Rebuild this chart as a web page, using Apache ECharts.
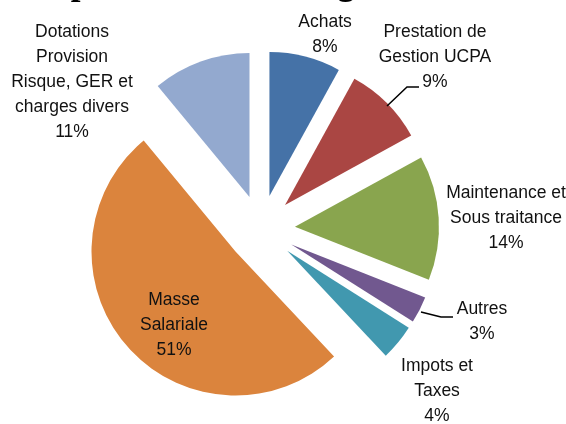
<!DOCTYPE html>
<html>
<head>
<meta charset="utf-8">
<style>
  html, body { margin: 0; padding: 0; background: #fff; }
  #chart { width: 566px; height: 424px; }
</style>
<script src="https://cdn.jsdelivr.net/npm/echarts@6/dist/echarts.min.js"></script>
</head>
<body>
<div id="chart"></div>
<script>
// postes de charges, dans l'ordre horaire depuis midi
const categories = ['Achats', 'Prestation de\nGestion UCPA', 'Maintenance et\nSous traitance', 'Autres', 'Impots et\nTaxes', 'Masse\nSalariale', 'Dotations\nProvision\nRisque, GER et\ncharges divers']
const values = [8, 9, 14, 3, 4, 51, 11]
const colors = ['#4572A7', '#AA4643', '#89A54E', '#71588F', '#4198AF', '#DB843D', '#93A9CF']

// placement des etiquettes (centre du bloc de texte), comme dans Excel
const labelAt = [[325, 35], [435, 57], [506, 218], [482, 322], [437, 391], [174, 325], [72, 82]]
// lignes de rappel (seulement Prestation et Autres)
const leaders = [
  [[387, 106], [407, 87], [419, 87]],
  [[421, 312], [441, 317], [453, 317]]
]

const total = values.reduce((a, b) => a + b, 0)

const labelTexts = categories.map((c, i) => ({
  type: 'text',
  x: labelAt[i][0],
  y: labelAt[i][1],
  z: 10,
  style: {
    text: c + '\n' + Math.round(values[i] / total * 100) + '%',
    font: '17.5px "Liberation Sans", Arial, sans-serif',
    lineHeight: 25,
    fill: '#111',
    align: 'center',
    verticalAlign: 'middle'
  }
}))

const leaderLines = leaders.map(pts => ({
  type: 'polyline',
  z: 10,
  shape: { points: pts },
  style: { stroke: '#000', lineWidth: 1.5, fill: null }
}))

const chart = echarts.init(document.getElementById('chart'))

const option = {
  animation: false,
  graphic: [{
    type: 'text',
    left: 30,
    top: -33,
    style: {
      text: 'Répartition des charges',
      font: 'bold 35px "Liberation Serif"',
      fill: '#000'
    }
  }].concat(labelTexts, leaderLines),
  series: [{
    type: 'pie',
    center: [261, 229],
    radius: 144,
    startAngle: 90,
    clockwise: true,
    selectedMode: 'multiple',
    selectedOffset: 34,
    emphasis: { disabled: true },
    label: { show: false },
    labelLine: { show: false },
    data: values.map((v, i) => ({
      name: categories[i],
      value: v,
      selected: true,
      itemStyle: { color: colors[i] }
    }))
  }]
}

chart.setOption(option)
</script>
</body>
</html>
